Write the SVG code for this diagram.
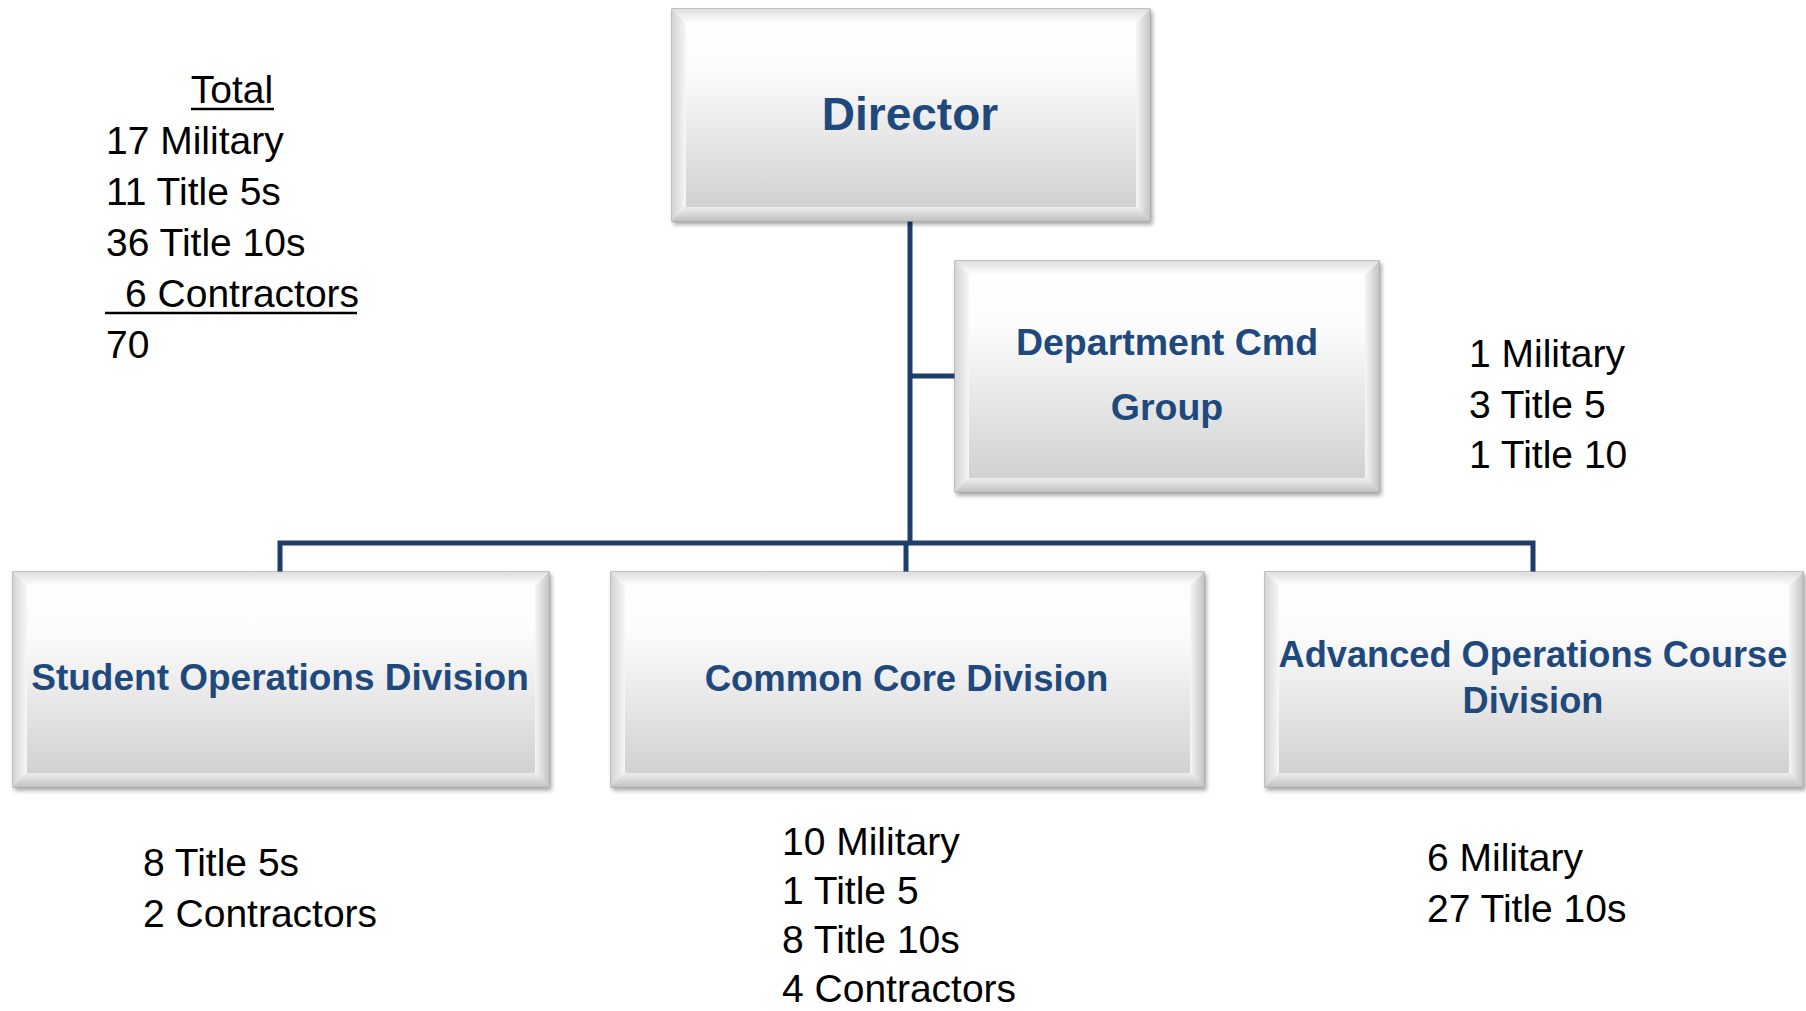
<svg xmlns="http://www.w3.org/2000/svg" width="1806" height="1011" viewBox="0 0 1806 1011">
<style>
.face{fill:url(#faceG);stroke:#9c9c9c;stroke-width:1.2}
.bt{fill:url(#topG)}
.bl{fill:url(#leftG)}
.br{fill:url(#rightG)}
.bb{fill:url(#botG)}
.title{font-family:"Liberation Sans",Arial,sans-serif;font-weight:bold;fill:#1F497D;text-anchor:middle}
.body{font-family:"Liberation Sans",Arial,sans-serif;font-size:39px;fill:#000}
.conn{fill:none;stroke:#1F3D6B;stroke-width:5}
.ul{stroke:#000;stroke-width:2.5}
</style>
<defs>
<linearGradient id="faceG" x1="0" y1="0" x2="0" y2="1">
<stop offset="0" stop-color="#ffffff"/>
<stop offset="0.3" stop-color="#fbfbfb"/>
<stop offset="1" stop-color="#cdcdcd"/>
</linearGradient>
<linearGradient id="topG" x1="0" y1="0" x2="0" y2="1">
<stop offset="0" stop-color="#dedede"/>
<stop offset="1" stop-color="#ffffff"/>
</linearGradient>
<linearGradient id="leftG" x1="0" y1="0" x2="1" y2="0">
<stop offset="0" stop-color="#d4d4d4"/>
<stop offset="1" stop-color="#f7f7f7"/>
</linearGradient>
<linearGradient id="rightG" x1="0" y1="0" x2="1" y2="0">
<stop offset="0" stop-color="#f6f6f6"/>
<stop offset="1" stop-color="#c4c4c4"/>
</linearGradient>
<linearGradient id="botG" x1="0" y1="0" x2="0" y2="1">
<stop offset="0" stop-color="#eeeeee"/>
<stop offset="1" stop-color="#c2c2c2"/>
</linearGradient>
<filter id="sh" x="-5%" y="-5%" width="110%" height="115%">
<feDropShadow dx="2" dy="3" stdDeviation="2" flood-color="#000" flood-opacity="0.35"/>
</filter>
</defs>

<g id="connectors">
<path class="conn" d="M910 221 V543"/>
<path class="conn" d="M910 376 H955"/>
<path class="conn" d="M280 572 V543 H1533 V572"/>
<path class="conn" d="M906 543 V572"/>
</g>

<g id="director">
<rect class="face" x="672" y="9" width="478" height="212" filter="url(#sh)"/>
<polygon class="bt" points="672,9 1150,9 1136,23 686,23"/>
<polygon class="bl" points="672,9 686,23 686,207 672,221"/>
<polygon class="br" points="1136,23 1150,9 1150,221 1136,207"/>
<polygon class="bb" points="686,207 1136,207 1150,221 672,221"/>
<text class="title" x="910" y="130" font-size="46">Director</text>
</g>

<g id="dept-cmd-group">
<rect class="face" x="955" y="261" width="424" height="231" filter="url(#sh)"/>
<polygon class="bt" points="955,261 1379,261 1365,275 969,275"/>
<polygon class="bl" points="955,261 969,275 969,478 955,492"/>
<polygon class="br" points="1365,275 1379,261 1379,492 1365,478"/>
<polygon class="bb" points="969,478 1365,478 1379,492 955,492"/>
<text class="title" x="1167" y="355" font-size="37.5">Department Cmd</text>
<text class="title" x="1167" y="420" font-size="37.5">Group</text>
</g>

<g id="student-ops">
<rect class="face" x="13" y="572" width="536" height="215" filter="url(#sh)"/>
<polygon class="bt" points="13,572 549,572 535,586 27,586"/>
<polygon class="bl" points="13,572 27,586 27,773 13,787"/>
<polygon class="br" points="535,586 549,572 549,787 535,773"/>
<polygon class="bb" points="27,773 535,773 549,787 13,787"/>
<text class="title" x="280" y="690" font-size="37">Student Operations Division</text>
</g>

<g id="common-core">
<rect class="face" x="611" y="572" width="593" height="215" filter="url(#sh)"/>
<polygon class="bt" points="611,572 1204,572 1190,586 625,586"/>
<polygon class="bl" points="611,572 625,586 625,773 611,787"/>
<polygon class="br" points="1190,586 1204,572 1204,787 1190,773"/>
<polygon class="bb" points="625,773 1190,773 1204,787 611,787"/>
<text class="title" x="906.5" y="691" font-size="36.5">Common Core Division</text>
</g>

<g id="advanced-ops">
<rect class="face" x="1265" y="572" width="538" height="215" filter="url(#sh)"/>
<polygon class="bt" points="1265,572 1803,572 1789,586 1279,586"/>
<polygon class="bl" points="1265,572 1279,586 1279,773 1265,787"/>
<polygon class="br" points="1789,586 1803,572 1803,787 1789,773"/>
<polygon class="bb" points="1279,773 1789,773 1803,787 1265,787"/>
<text class="title" x="1533" y="667" font-size="36.2">Advanced Operations Course</text>
<text class="title" x="1533" y="713" font-size="36.2">Division</text>
</g>

<g id="total-text">
<text class="body" x="232" y="103" text-anchor="middle">Total</text>
<line class="ul" x1="191" y1="109" x2="274" y2="109"/>
<text class="body" x="106" y="154">17 Military</text>
<text class="body" x="106" y="205">11 Title 5s</text>
<text class="body" x="106" y="256">36 Title 10s</text>
<text class="body" x="125" y="307">6 Contractors</text>
<line class="ul" x1="105" y1="313" x2="357" y2="313"/>
<text class="body" x="106" y="358">70</text>
</g>

<g id="dept-text">
<text class="body" x="1469" y="367">1 Military</text>
<text class="body" x="1469" y="418">3 Title 5</text>
<text class="body" x="1469" y="468">1 Title 10</text>
</g>

<g id="student-text">
<text class="body" x="143" y="876">8 Title 5s</text>
<text class="body" x="143" y="927">2 Contractors</text>
</g>

<g id="common-text">
<text class="body" x="782" y="855">10 Military</text>
<text class="body" x="782" y="904">1 Title 5</text>
<text class="body" x="782" y="953">8 Title 10s</text>
<text class="body" x="782" y="1002">4 Contractors</text>
</g>

<g id="advanced-text">
<text class="body" x="1427" y="871">6 Military</text>
<text class="body" x="1427" y="922">27 Title 10s</text>
</g>
</svg>
